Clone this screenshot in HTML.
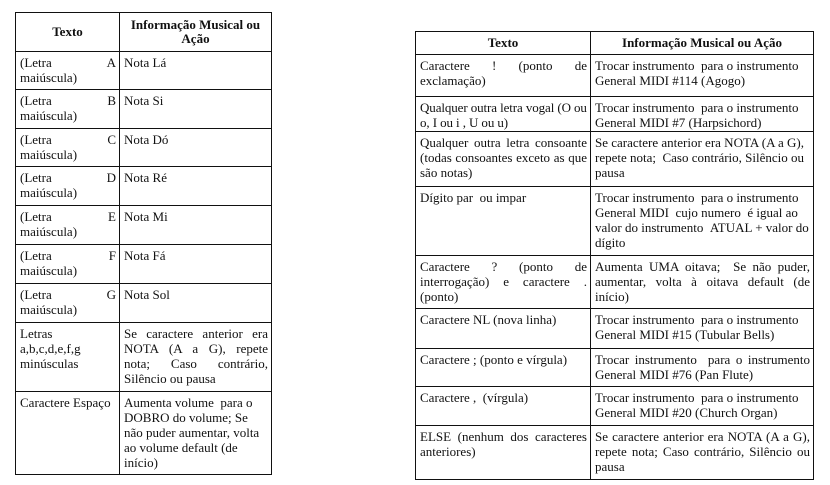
<!DOCTYPE html>
<html><head><meta charset="utf-8"><style>
body{margin:0;width:830px;height:485px;background:#fff;position:relative;overflow:hidden;font-family:"Liberation Serif",serif;font-size:13px;line-height:15px;color:#111}
table{position:absolute;border-collapse:collapse;table-layout:fixed}
td,th{border:1.5px solid #111;vertical-align:top;padding:3px 3px 0 4px;overflow:hidden}
th{text-align:center;font-weight:bold;vertical-align:middle;padding:0 4px;line-height:14px}
.j{text-align:justify;text-align-last:justify}
.jn{text-align:justify}
</style></head><body>
<table style="left:15px;top:12px;width:256px">
<colgroup><col style="width:104px"><col style="width:152px"></colgroup>
<tr style="height:39px"><th>Texto</th><th>Informação Musical ou Ação</th></tr>
<tr style="height:38px"><td><div class="j">(Letra A</div>maiúscula)</td><td>Nota Lá</td></tr>
<tr style="height:39px"><td><div class="j">(Letra B</div>maiúscula)</td><td>Nota Si</td></tr>
<tr style="height:38px"><td><div class="j">(Letra C</div>maiúscula)</td><td>Nota Dó</td></tr>
<tr style="height:39px"><td><div class="j">(Letra D</div>maiúscula)</td><td>Nota Ré</td></tr>
<tr style="height:39px"><td><div class="j">(Letra E</div>maiúscula)</td><td>Nota Mi</td></tr>
<tr style="height:39px"><td><div class="j">(Letra F</div>maiúscula)</td><td>Nota Fá</td></tr>
<tr style="height:39px"><td><div class="j">(Letra G</div>maiúscula)</td><td>Nota Sol</td></tr>
<tr style="height:69px"><td>Letras<br>a,b,c,d,e,f,g<br>minúsculas</td><td class="jn">Se caractere anterior era NOTA (A a G), repete nota; Caso contrário, Silêncio ou pausa</td></tr>
<tr style="height:83px"><td>Caractere Espaço</td><td>Aumenta volume &nbsp;para o DOBRO do volume; Se não puder aumentar, volta ao volume default (de início)</td></tr>
</table>
<table style="left:415px;top:31px;width:398px">
<colgroup><col style="width:175px"><col style="width:223px"></colgroup>
<tr style="height:23px"><th>Texto</th><th>Informação Musical ou Ação</th></tr>
<tr style="height:42px"><td class="jn">Caractere ! (ponto de exclamação)</td><td>Trocar instrumento &nbsp;para o instrumento General MIDI #114 (Agogo)</td></tr>
<tr style="height:35px"><td style="padding-right:1px;letter-spacing:-0.1px">Qualquer outra letra vogal (O ou o, I ou i , U ou u)</td><td>Trocar instrumento &nbsp;para o instrumento General MIDI #7 (Harpsichord)</td></tr>
<tr style="height:55px"><td class="jn">Qualquer outra letra consoante (todas consoantes exceto as que são notas)</td><td>Se caractere anterior era NOTA (A a G), repete nota; &nbsp;Caso contrário, Silêncio ou pausa</td></tr>
<tr style="height:69px"><td>Dígito par &nbsp;ou impar</td><td>Trocar instrumento &nbsp;para o instrumento General MIDI &nbsp;cujo numero &nbsp;é igual ao valor do instrumento &nbsp;ATUAL + valor do dígito</td></tr>
<tr style="height:53px"><td class="jn">Caractere ? (ponto de interrogação) e caractere . (ponto)</td><td class="jn">Aumenta UMA oitava; &nbsp;Se não puder, aumentar, volta à oitava default (de início)</td></tr>
<tr style="height:40px"><td>Caractere NL (nova linha)</td><td>Trocar instrumento &nbsp;para o instrumento General MIDI #15 (Tubular Bells)</td></tr>
<tr style="height:38px"><td>Caractere ; (ponto e vírgula)</td><td class="jn">Trocar instrumento &nbsp;para o instrumento General MIDI #76 (Pan Flute)</td></tr>
<tr style="height:39px"><td>Caractere , &nbsp;(vírgula)</td><td>Trocar instrumento &nbsp;para o instrumento General MIDI #20 (Church Organ)</td></tr>
<tr style="height:54px"><td class="jn">ELSE (nenhum dos caracteres anteriores)</td><td class="jn">Se caractere anterior era NOTA (A a G), repete nota; Caso contrário, Silêncio ou pausa</td></tr>
</table>
</body></html>
